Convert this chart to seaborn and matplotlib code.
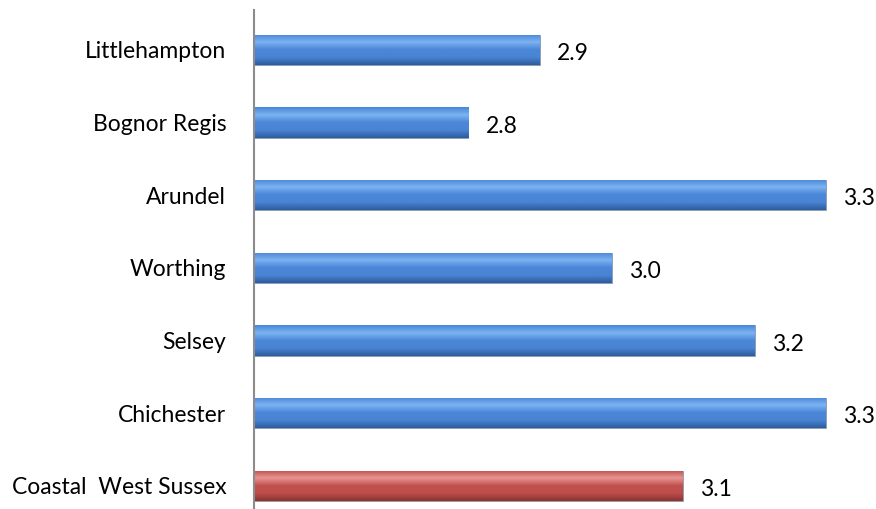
import numpy as np
import pandas as pd
import matplotlib
matplotlib.use("Agg")
import matplotlib.pyplot as plt
import seaborn as sns
from matplotlib.colors import LinearSegmentedColormap

# Veri
towns = ["Littlehampton", "Bognor Regis", "Arundel", "Worthing", "Selsey",
         "Chichester", "Coastal  West Sussex"]
scores = [2.9, 2.8, 3.3, 3.0, 3.2, 3.3, 3.1]
groups = ["town", "town", "town", "town", "town", "town", "total"]
base = 2.5  # the value axis starts at 2.5

df = pd.DataFrame({"town": towns, "score": scores, "group": groups})
df["above_base"] = df["score"] - base

sns.set_style("white", {"text.color": "black", "ytick.color": "black"})
plt.rcParams["font.family"] = ["Lato", "DejaVu Sans"]

fig = plt.figure(figsize=(8.76, 5.09), dpi=100)
ax = fig.add_axes([254 / 876, 0, 1 - 254 / 876, 1 - 10 / 509])

palette = {"town": "#4A86D8", "total": "#C0504D"}
sns.barplot(data=df, x="above_base", y="town", hue="group", palette=palette,
            dodge=False, legend=False, width=0.42, ax=ax, orient="h")

# gradient effect on bars
grads = {
    "town": LinearSegmentedColormap.from_list("b", ["#2C5C9C", "#4A84D4", "#4A86D8", "#7DB3F2", "#4A86D8"]),
    "total": LinearSegmentedColormap.from_list("r", ["#8C3230", "#BC4E4B", "#C0504D", "#E89593", "#C0504D"]),
}
grad = np.linspace(0, 1, 64).reshape(-1, 1)
for patch, g in zip(ax.patches, groups):
    x0, y0 = patch.get_x(), patch.get_y()
    w, h = patch.get_width(), patch.get_height()
    im = ax.imshow(grad, extent=[x0, x0 + w, y0 + h, y0], aspect="auto",
                   cmap=grads[g], zorder=patch.get_zorder() + 0.1, origin="lower")
    im.set_clip_path(patch)
    patch.set_edgecolor("#8a9bb0")
    patch.set_linewidth(0.6)

for i, v in enumerate(scores):
    ax.text(v - base + 0.024, i + 0.05, f"{v:.1f}", va="center", ha="left",
            fontsize=16.5, color="black")

ax.set_xlim(0, (876 - 254) / 715)
ax.set_ylim(6.32, -0.55)
ax.set_yticks(range(len(towns)), towns)
ax.set_xlabel("")
ax.set_ylabel("")
ax.set_xticks([])
ax.tick_params(axis="y", length=0, pad=20, labelsize=16.5, labelcolor="black")
for s in ["top", "right", "bottom"]:
    ax.spines[s].set_visible(False)
ax.spines["left"].set_color("#8c8c8c")
ax.spines["left"].set_linewidth(1.5)

fig.savefig("out.png", dpi=100)
